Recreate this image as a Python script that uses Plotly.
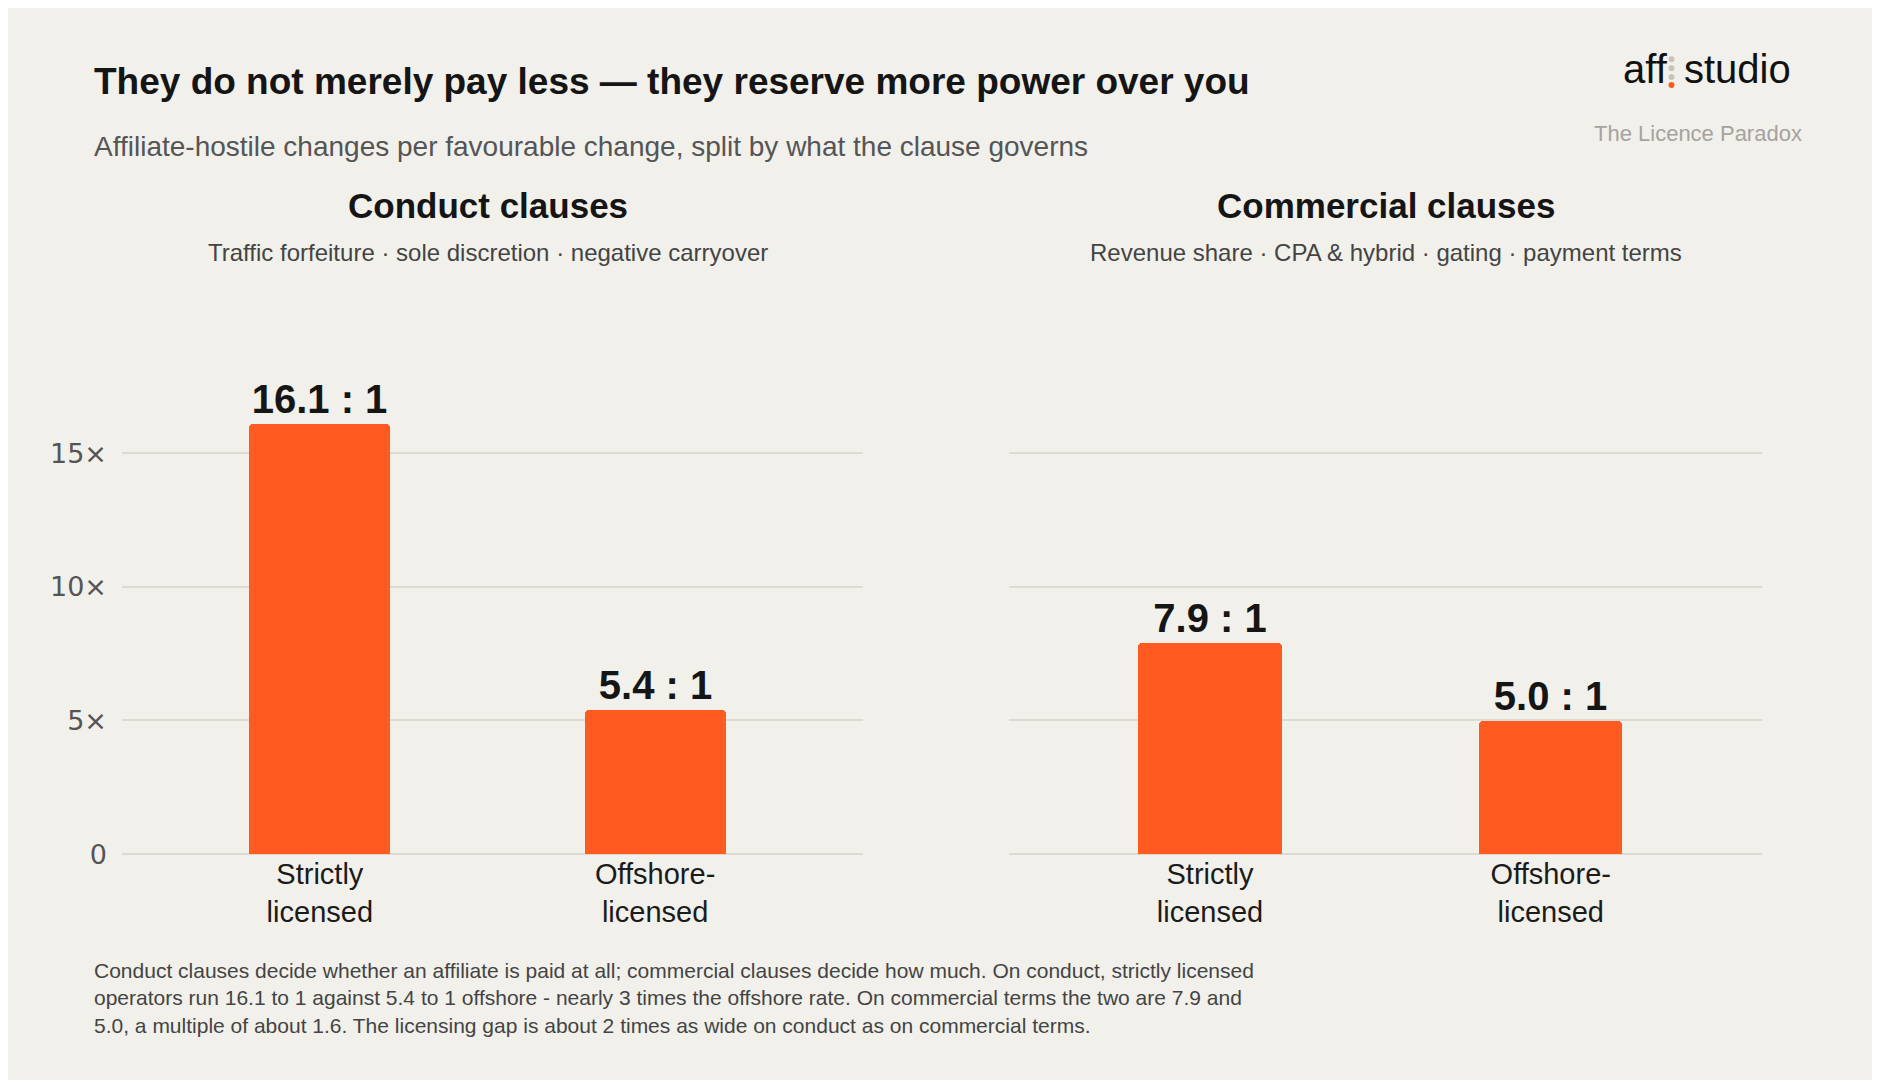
import plotly.graph_objects as go

categories = ["Strictly<br>licensed", "Offshore-<br>licensed"]
conduct = [16.1, 5.4]
commercial = [7.9, 5.0]
tick_vals = [0, 5, 10, 15]
tick_text = ["0", "5×", "10×", "15×"]

W, H = 1880, 1080
BG = "#f1f0eb"
ORANGE = "#ff5a1f"
F = "Liberation Sans"

def py(p):  # pixel y -> paper
    return 1 - p / H
def px(p):
    return p / W

fig = go.Figure()
for i, (vals, ax) in enumerate([(conduct, "x"), (commercial, "x2")]):
    fig.add_trace(go.Bar(
        x=[0, 1], y=vals, xaxis=ax, yaxis="y" if i == 0 else "y2",
        marker=dict(color=ORANGE, line=dict(width=0)), width=0.42,
        text=[f"{v:.1f} : 1" for v in vals], textposition="outside",
        textfont=dict(family=F, size=40, color="#151515"),
        texttemplate="<b>%{text}</b>", cliponaxis=False, hoverinfo="skip"))

ydom = [py(858), py(316)]
common_y = dict(range=[0, 20], domain=ydom, tickvals=tick_vals, showgrid=True,
                gridcolor="#dcdad3", gridwidth=2, zeroline=True, zerolinecolor="#dcdad3",
                zerolinewidth=2, fixedrange=True)
common_x = dict(range=[-0.59, 1.62], tickvals=[0, 1], ticktext=categories, showgrid=False,
                zeroline=False, tickfont=dict(family=F, size=29, color="#1b1b1b"), ticks="")
fig.update_layout(
    width=W, height=H, paper_bgcolor=BG, plot_bgcolor=BG, showlegend=False,
    margin=dict(l=0, r=0, t=0, b=0), bargap=0, barcornerradius=5,
    xaxis=dict(domain=[px(114), px(855)], **common_x),
    xaxis2=dict(domain=[px(1001), px(1754)], **common_x),
    yaxis=dict(ticktext=tick_text, tickfont=dict(family="DejaVu Sans", size=27, color="#555"),
               ticklabelstandoff=14, **common_y),
    yaxis2=dict(showticklabels=False, anchor="x2", **common_y),
)

anns = [
    dict(x=px(84), y=py(75), text="<b>They do not merely pay less — they reserve more power over you</b>",
         font=dict(family=F, size=37, color="#151515"), xanchor="left"),
    dict(x=px(84), y=py(140), text="Affiliate-hostile changes per favourable change, split by what the clause governs",
         font=dict(family=F, size=28, color="#555"), xanchor="left"),
    dict(x=px(480), y=py(200), text="<b>Conduct clauses</b>", font=dict(family=F, size=35, color="#151515")),
    dict(x=px(480), y=py(248), text="Traffic forfeiture · sole discretion · negative carryover",
         font=dict(family=F, size=24, color="#444")),
    dict(x=px(1378), y=py(200), text="<b>Commercial clauses</b>", font=dict(family=F, size=35, color="#151515")),
    dict(x=px(1378), y=py(248), text="Revenue share · CPA & hybrid · gating · payment terms",
         font=dict(family=F, size=24, color="#444")),
    dict(x=px(1662), y=py(62), text="aff", font=dict(family=F, size=40, color="#111"), xanchor="right"),
    dict(x=px(1674), y=py(62), text="studio", font=dict(family=F, size=40, color="#111"), xanchor="left"),
    dict(x=px(1796), y=py(127), text="The Licence Paradox", font=dict(family=F, size=22, color="#a5a39d"),
         xanchor="right"),
    dict(x=px(84), y=py(1004), align="left", xanchor="left",
         text="Conduct clauses decide whether an affiliate is paid at all; commercial clauses decide how much. On conduct, strictly licensed<br>"
              "operators run 16.1 to 1 against 5.4 to 1 offshore - nearly 3 times the offshore rate. On commercial terms the two are 7.9 and<br>"
              "5.0, a multiple of about 1.6. The licensing gap is about 2 times as wide on conduct as on commercial terms.",
         font=dict(family=F, size=21, color="#444")),
]
for a in anns:
    a.setdefault("xanchor", "center")
    fig.add_annotation(xref="paper", yref="paper", yanchor="middle", showarrow=False, **a)

for cy, col in [(52, "#c9c3b8"), (61, "#c9c3b8"), (70, "#c9c3b8"), (78, ORANGE)]:
    fig.add_shape(type="circle", xref="paper", yref="paper", x0=px(1660.5), x1=px(1666.5),
                  y0=py(cy + 3), y1=py(cy - 3), fillcolor=col, line=dict(width=0))

fig.write_html("out.html")
